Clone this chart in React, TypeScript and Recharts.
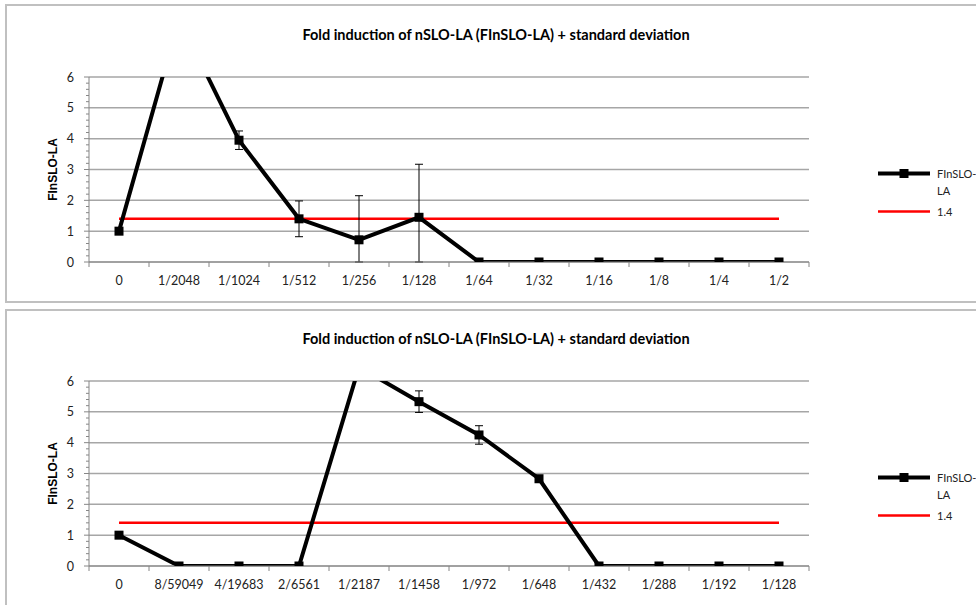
import { LineChart, Line, XAxis, YAxis, CartesianGrid, ErrorBar, Legend } from 'recharts'

// dilution steps of the two experiments
const topCategories = ['0', '1/2048', '1/1024', '1/512', '1/256', '1/128', '1/64', '1/32', '1/16', '1/8', '1/4', '1/2']
const topFold = [1.0, 7.9, 3.95, 1.4, 0.72, 1.45, 0, 0, 0, 0, 0, 0]
const topSd = [0.1, 0, 0.3, 0.58, 1.43, 1.72, 0, 0, 0, 0, 0, 0]

const bottomCategories = ['0', '8/59049', '4/19683', '2/6561', '1/2187', '1/1458', '1/972', '1/648', '1/432', '1/288', '1/192', '1/128']
const bottomFold = [1.0, 0, 0, 0, 6.45, 5.33, 4.25, 2.83, 0, 0, 0, 0]
const bottomSd = [0.1, 0, 0, 0, 0, 0.35, 0.3, 0.1, 0, 0, 0, 0]

const threshold = [1.4, 1.4, 1.4, 1.4, 1.4, 1.4, 1.4, 1.4, 1.4, 1.4, 1.4, 1.4]

const yTicks = [0, 1, 2, 3, 4, 5, 6]
const yMinorTicks = yTicks.flatMap((v) => (v < 6 ? [v, v + 0.2, v + 0.4, v + 0.6, v + 0.8] : [v]))

const TITLE = 'Fold induction of nSLO-LA (FInSLO-LA) + standard deviation'
const Y_LABEL = 'FInSLO-LA'

const AXIS_GRAY = '#868686'
const GRID_GRAY = '#a6a6a6'
const LABEL_FONT = 'Lato, "Liberation Sans", sans-serif'

function YTick({ x, y, payload }: any) {
  const major = Number.isInteger(payload.value)
  return (
    <g>
      <line x1={x - (major ? 5 : 3)} x2={x} y1={y} y2={y} stroke={AXIS_GRAY} />
      {major && (
        <text x={x - 15} y={y} textAnchor="end" dominantBaseline="central" fontSize={12.5} fontFamily={LABEL_FONT} fill="#222">
          {payload.value}
        </text>
      )}
    </g>
  )
}

function XTick({ x, y, payload, index, last }: any) {
  const half = payload.offset || 30
  return (
    <g>
      <line x1={x - half} x2={x - half} y1={y} y2={y + 5} stroke={AXIS_GRAY} />
      {index === last && <line x1={x + half} x2={x + half} y1={y} y2={y + 5} stroke={AXIS_GRAY} />}
      <text x={x} y={y + 18} textAnchor="middle" dominantBaseline="central" fontSize={12.5} fontFamily={LABEL_FONT} fill="#222">
        {payload.value}
      </text>
    </g>
  )
}

function SquareDot({ cx, cy }: any) {
  if (cx == null || cy == null) return null
  return <rect x={cx - 4.5} y={cy - 4.5} width={9} height={9} fill="#000" />
}

function YLabel({ viewBox }: any) {
  const cy = viewBox.y + viewBox.height / 2
  return (
    <text
      x={53}
      y={cy}
      transform={`rotate(-90 53 ${cy})`}
      textAnchor="middle"
      dominantBaseline="central"
      fontSize={12}
      fontWeight="bold"
      fontFamily='"Liberation Sans", Arial, sans-serif'
      fill="#000"
    >
      {Y_LABEL}
    </text>
  )
}

function LegendBox({ payload }: any) {
  const items = [...(payload || [])].reverse()
  return (
    <div style={{ fontFamily: LABEL_FONT, fontSize: 11, lineHeight: '17px', color: '#222', textAlign: 'left' }}>
      {items.map((item: any, i: number) => (
        <div key={item.value} style={{ display: 'flex', alignItems: 'flex-start', marginTop: i === 0 ? 0 : 4 }}>
          <svg width={59} height={17} style={{ flex: 'none' }}>
            <line x1={0} x2={52} y1={8.5} y2={8.5} stroke={item.color} strokeWidth={i === 0 ? 4 : 2.5} />
            {i === 0 && <rect x={21.5} y={4} width={9} height={9} fill="#000" />}
          </svg>
          <div style={{ width: 38 }}>{item.value}</div>
        </div>
      ))}
    </div>
  )
}

function FoldChart({ top, boxTop, categories, fold, sd }: any) {
  // error bars stop at the bottom of the value axis; points without a deviation get none
  const data = categories.map((c: string, i: number) => ({
    dilution: c,
    fold: fold[i],
    sd: sd[i] > 0 ? [Math.min(sd[i], fold[i]), sd[i]] : undefined,
    threshold: threshold[i],
  }))
  return (
    <div style={{ position: 'absolute', left: 0, top, width: 976, height: 300 }}>
      <div
        style={{
          position: 'absolute',
          left: 5,
          top: boxTop,
          width: 1000,
          height: 299,
          border: '2px solid #c0c0c0',
          boxSizing: 'border-box',
        }}
      />
      <div style={{ position: 'absolute', left: 0, top: 0 }}>
        <LineChart width={976} height={300} data={data} margin={{ top: 77, right: 167, bottom: 8, left: 0 }}>
          <CartesianGrid vertical={false} horizontalValues={yTicks} stroke={GRID_GRAY} strokeWidth={1.5} />
          <XAxis
            dataKey="dilution"
            scale="band"
            interval={0}
            height={30}
            tickSize={0}
            tickMargin={0}
            tickLine={false}
            axisLine={{ stroke: AXIS_GRAY }}
            tick={<XTick last={categories.length - 1} />}
          />
          <YAxis
            width={89}
            domain={[0, 6]}
            allowDataOverflow
            ticks={yMinorTicks}
            interval={0}
            tickSize={0}
            tickMargin={0}
            tickLine={false}
            axisLine={{ stroke: AXIS_GRAY }}
            tick={<YTick />}
            label={{ content: <YLabel /> }}
          />
          <Legend
            layout="horizontal"
            verticalAlign="middle"
            align="center"
            content={<LegendBox />}
            wrapperStyle={{ position: 'absolute', left: 878, top: 165, width: 98 }}
          />
          <Line
            dataKey="threshold"
            name="1.4"
            stroke="#ff0000"
            strokeWidth={2.5}
            dot={false}
            activeDot={false}
            isAnimationActive={false}
          />
          <Line
            dataKey="fold"
            name="FInSLO-LA"
            stroke="#000"
            strokeWidth={4}
            dot={<SquareDot />}
            activeDot={false}
            isAnimationActive={false}
          >
            <ErrorBar dataKey="sd" width={4} stroke="#000" strokeWidth={1} isAnimationActive={false} />
          </Line>
        </LineChart>
      </div>
      <div
        style={{
          position: 'absolute',
          left: 0,
          width: 992,
          top: 26,
          textAlign: 'center',
          fontFamily: LABEL_FONT,
          fontWeight: 'bold',
          fontSize: 14.5,
          lineHeight: '18px',
          color: '#000',
        }}
      >
        {TITLE}
      </div>
    </div>
  )
}

export default function App() {
  return (
    <div
      style={{
        position: 'fixed',
        left: 0,
        top: 0,
        width: 976,
        height: 605,
        overflow: 'hidden',
        background: '#fff',
      }}
    >
      <FoldChart top={0} boxTop={4} categories={topCategories} fold={topFold} sd={topSd} />
      <FoldChart top={304} boxTop={5} categories={bottomCategories} fold={bottomFold} sd={bottomSd} />
    </div>
  )
}
